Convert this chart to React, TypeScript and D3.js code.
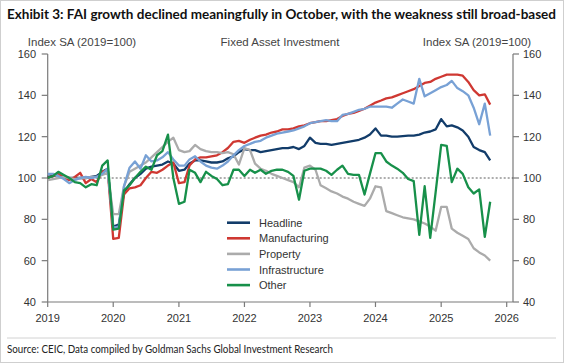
import React from "react";
import * as d3 from "d3";

const years = [2019, 2020, 2021, 2022, 2023, 2024, 2025, 2026];
const yTicks = [40, 60, 80, 100, 120, 140, 160];

const headline = [
  100.5, 101, 101.5, 100.5, 100, 100, 100, 100, 100.5, 101, 103, 104.5,
  76.5, 77.5, 93, 97, 100, 102, 104.5, 105.5, 106, 106.5, 108, 107,
  103.5, 104, 107, 108.5, 108.5, 108, 107.5, 107.5, 108, 109.5, 110.5, 112.5,
  114, 113.5, 113.5, 112.5, 113, 113.5, 114, 114.5, 114.5, 115, 114, 115.5,
  119.5, 117, 116.5, 116.5, 116, 116.5, 117, 117.5, 118, 118.5, 119.5, 121,
  124, 120.5, 120.5, 120, 120, 120.3, 120.5, 120.5, 121, 122, 122.5, 123.5,
  128.5, 125, 125.5, 124.5, 123, 120, 115, 113.5, 112.5, 108.5,
];
const manufacturing = [
  100, 101, 102, 100, 99, 100.5, 102.5, 97.5, 99.5, 98, 103, 104,
  70.5, 71, 92, 95, 95.5, 96.5, 100, 103, 102.5, 104, 106, 107.5,
  97.5, 98, 106, 109, 110, 110, 110.5, 111, 112.5, 114.5, 117.5, 118,
  117, 118.5, 119.5, 120.5, 121, 122, 122.5, 123.5, 123.5, 124, 125, 125.5,
  126.5, 127, 127.5, 127.5, 128, 128.5, 130, 131, 131.5, 132.5, 133.5, 135,
  136.5, 137.5, 138.5, 139, 140, 141, 142, 143, 144.5, 146, 146.5, 148,
  149, 150, 150, 150, 149.5, 146.5, 142.5, 140, 140.5, 135.5,
];
const property = [
  99, 99.5, 100, 100.5, 100, 99.5, 100, 100, 100.5, 100.5, 101.5, 102.5,
  82.5, 82.5, 96, 103, 104.5, 106, 107.5, 110, 112.5, 115, 117.5, 119.5,
  113.5, 112.5, 113, 116, 114, 113, 112.5, 112.5, 112, 112.5, 111.5, 106.5,
  114.5, 113.5, 107, 104.5, 103.5, 102, 101, 100, 99, 98, 95.5, 105,
  106, 104, 96.5, 95, 93.5, 92.5, 91, 90, 88.5, 87.5, 86.5, 90,
  96, 95.5, 84, 83, 82, 81, 80.5, 80, 79, 78, 76.5, 74.5,
  86, 86, 75.5, 73.5, 72, 70.5, 66, 64, 62.5, 60,
];
const infrastructure = [
  102, 102, 101, 99.5, 97.5, 99, 100, 100.5, 100, 100.5, 102, 104.5,
  76, 76.5, 96, 105, 108, 104.5, 111, 108, 108.5, 110, 112.5, 109,
  106, 106, 109, 110.5, 108, 106, 105, 104.5, 106, 108, 111, 113.5,
  115.5, 116.5, 117.5, 118, 119.5, 120.5, 121.5, 122, 122.5, 123, 124, 125,
  126.5, 127, 127.5, 128, 127.5, 127.5, 130.5, 131, 132, 133, 133.5, 134.5,
  134.5, 134.5, 134.5, 134, 136, 138, 137, 136, 148, 139.5, 141, 142.5,
  144, 145, 147, 143.5, 142, 140, 134, 126, 136, 120.5,
];
const other = [
  100, 101, 103, 101.5, 100, 98, 97.5, 95.5, 97, 96.5, 106, 108.5,
  75, 75.5, 94, 96.5, 100, 103, 105.5, 104, 111, 113, 121, 100,
  87.5, 88.5, 104, 102.5, 98, 103, 101, 99.5, 96.5, 97, 104, 104,
  101, 104, 102.5, 104, 102, 103.5, 104, 104, 103, 101, 89.5, 103.5,
  104.5, 104.5, 104.5, 103.5, 101.5, 104, 106, 102, 101.5, 101.5, 92, 102,
  112, 112, 108, 106, 104.5, 102.5, 99.5, 98.5, 72.5, 96, 71, 93,
  116, 115.5, 98, 104.5, 102, 95.5, 92.5, 94.5, 71.5, 88.5,
];

const seriesNames = ["Headline", "Manufacturing", "Property", "Infrastructure", "Other"];
const seriesData = [headline, manufacturing, property, infrastructure, other];
const seriesColors = ["#123c6a", "#cf3832", "#ababab", "#78a1d5", "#17904a"];

const months = d3.timeMonths(new Date(2019, 0, 1), new Date(2025, 10, 1));

export default function App() {
  const W = 564, H = 363;
  const left = 47.7, right = 513, top = 54, bottom = 302;
  const x = d3.scaleTime().domain([new Date(2019, 0, 1), new Date(2026, 0, 1)]).range([left, 506.7]);
  const y = d3.scaleLinear().domain([40, 160]).range([bottom, top]);
  const line = d3.line<number>().x((_, i) => x(months[i])).y((d) => y(d));
  const axisColor = "#7a7a7a";
  const font = "'Liberation Sans', Arial, sans-serif";

  return (
    <svg width={W} height={H} style={{ position: "absolute", left: 0, top: 0, background: "#fff" }}>
      <rect x={0.5} y={0.5} width={W - 1} height={H - 1} fill="#fff" stroke="#cfcfcf" />
      <text x={7} y={19} fontFamily="Lato, sans-serif" fontWeight={700} fontSize={13.5} fill="#111"
        textLength={549} lengthAdjust="spacingAndGlyphs">
        Exhibit 3: FAI growth declined meaningfully in October, with the weakness still broad-based
      </text>
      <g fontFamily={font} fontSize={11.5} fill="#444">
        <text x={82} y={46} textAnchor="middle">Index SA (2019=100)</text>
        <text x={280} y={46} textAnchor="middle">Fixed Asset Investment</text>
        <text x={477} y={46} textAnchor="middle">Index SA (2019=100)</text>
      </g>
      {/* axes */}
      <g stroke={axisColor} strokeWidth={1.2} fill="none">
        <line x1={left} x2={left} y1={top} y2={bottom} />
        <line x1={right} x2={right} y1={top} y2={bottom} />
        <line x1={left} x2={right} y1={bottom} y2={bottom} />
        {yTicks.map((t) => (
          <g key={t}>
            <line x1={left - 6} x2={left} y1={y(t)} y2={y(t)} />
            <line x1={right} x2={right + 6} y1={y(t)} y2={y(t)} />
          </g>
        ))}
        {years.map((yr) => (
          <line key={yr} x1={x(new Date(yr, 0, 1))} x2={x(new Date(yr, 0, 1))} y1={bottom} y2={bottom + 5} />
        ))}
      </g>
      <g fontFamily={font} fontSize={11} fill="#333">
        {yTicks.map((t) => (
          <g key={t}>
            <text x={36} y={y(t) + 4} textAnchor="end">{t}</text>
            <text x={523} y={y(t) + 4}>{t}</text>
          </g>
        ))}
        {years.map((yr) => (
          <text key={yr} x={x(new Date(yr, 0, 1))} y={322} textAnchor="middle">{yr}</text>
        ))}
      </g>
      <line x1={left} x2={right} y1={y(100)} y2={y(100)} stroke="#333" strokeWidth={0.8} strokeDasharray="2,2" />
      {seriesData.map((s, k) => (
        <path key={k} d={line(s) || ""} fill="none" stroke={seriesColors[k]} strokeWidth={2.3} strokeLinejoin="round" />
      ))}
      {/* legend */}
      <g fontFamily={font} fontSize={11} fill="#333">
        {seriesNames.map((n, k) => (
          <g key={n} transform={`translate(0, ${222.7 + k * 15.6})`}>
            <line x1={227} x2={250} y1={0} y2={0} stroke={seriesColors[k]} strokeWidth={2.6} />
            <text x={259} y={4}>{n}</text>
          </g>
        ))}
      </g>
      <line x1={7} x2={556} y1={338} y2={338} stroke="#d2d2d2" strokeWidth={1} />
      <text x={7} y={353} fontFamily="Lato, sans-serif" fontSize={10.5} fill="#222" textLength={326} lengthAdjust="spacingAndGlyphs">
        Source: CEIC, Data compiled by Goldman Sachs Global Investment Research
      </text>
    </svg>
  );
}
